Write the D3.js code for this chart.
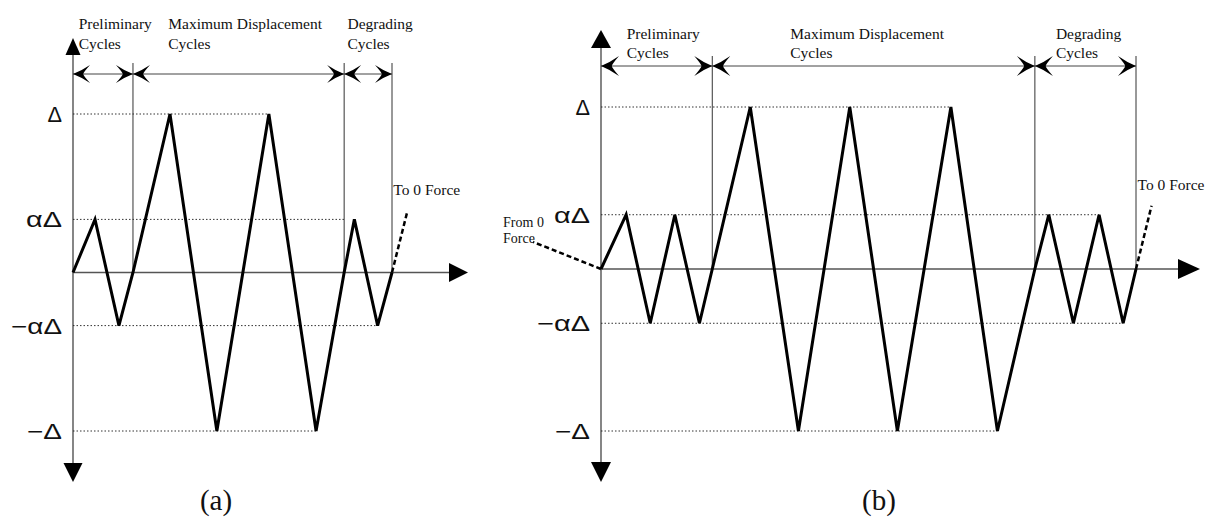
<!DOCTYPE html>
<html>
<head>
<meta charset="utf-8">
<script src="https://cdn.jsdelivr.net/npm/d3@7"></script>
<style>
    html, body { margin: 0; padding: 0; background: #fff; }
    svg { display: block; }
    .serif { font-family: "Liberation Serif", "Times New Roman", serif; fill: #111; }
    .sans  { font-family: "Liberation Sans", Arial, sans-serif; fill: #111; }
</style>
</head>
<body>
<div id="chart"></div>
<script>
(function () {

    /* ── data ─────────────────────────────────────────────────────── */
    var LEVEL_LABELS = ["Δ", "αΔ", "−αΔ", "−Δ"];
    var LEVEL_VALUES = [1, 0.335, -0.335, -1];

    var PHASE_TITLES = ["Preliminary", "Maximum Displacement", "Degrading"];
    var PHASE_SUB    = "Cycles";

    // panel (a): time (0-100 of the test) vs displacement (in Δ)
    var A_TIME      = [0, 6.9, 14.4, 18.8, 30.4, 45.1, 61.4, 76.2, 85.0, 88.2, 95.5, 100];
    var A_DISP      = [0, 0.335, -0.335, 0, 1, -1, 1, -1, 0, 0.335, -0.335, 0];
    var A_PHASES    = [0, 18.8, 85.0, 100];
    var A_LEVEL_END = [61.4, 85.0, 95.5, 76.2];
    var A_TO_ZERO   = [104.8, 0.385];

    // panel (b)
    var B_TIME      = [0, 4.7, 9.2, 13.8, 18.4, 20.8, 27.9, 36.9, 46.5, 55.4, 65.4, 74.1,
                       81.1, 83.7, 88.3, 93.1, 97.6, 100];
    var B_DISP      = [0, 0.335, -0.335, 0.335, -0.335, 0, 1, -1, 1, -1, 1, -1,
                       0, 0.335, -0.335, 0.335, -0.335, 0];
    var B_PHASES    = [0, 20.8, 81.1, 100];
    var B_LEVEL_END = [65.4, 93.1, 97.6, 74.1];
    var B_TO_ZERO   = [102.9, 0.39];
    var B_FROM_ZERO = [-12.7, 0.167];

    var CAPTIONS = ["(a)", "(b)"];

    /* ── layout ───────────────────────────────────────────────────── */
    var W = 1209, H = 518;

    var PANELS = [
        { time: A_TIME, disp: A_DISP, phases: A_PHASES, levelEnd: A_LEVEL_END,
          toZero: A_TO_ZERO, fromZero: null, caption: CAPTIONS[0],
          x0: 73, x1: 392, yTop: 114, yBot: 431,
          axTop: 38, axBot: 482, axRight: 468,
          topHead: [15, 17], botHead: [19, 19], rightHead: [19, 19],
          rowY: 74, vTop: 63, head: [17, 18],
          titleDx: [5.7, 35.3, 3.3], titleY: [29, 49],
          labelW: [14.5, 36, 51, 35], capX: 216, capY: 510 },
        { time: B_TIME, disp: B_DISP, phases: B_PHASES, levelEnd: B_LEVEL_END,
          toZero: B_TO_ZERO, fromZero: B_FROM_ZERO, caption: CAPTIONS[1],
          x0: 601, x1: 1136, yTop: 107, yBot: 431,
          axTop: 30, axBot: 482, axRight: 1200,
          topHead: [20, 18], botHead: [20, 20], rightHead: [22, 20],
          rowY: 66, vTop: 56, head: [18, 20],
          titleDx: [25.7, 78, 21], titleY: [39, 58],
          labelW: [14.5, 36, 53, 35], capX: 879, capY: 510 }
    ];

    var svg = d3.select("#chart")
        .append("svg")
        .attr("width", W)
        .attr("height", H);

    // concave filled arrow head, tip at origin pointing left
    function headPath(L, Hh) {
        return "M0,0" +
            "Q" + (0.5 * L) + "," + (-0.18 * Hh) + " " + L + "," + (-0.5 * Hh) +
            "Q" + (0.62 * L) + "," + (-0.1 * Hh) + " " + (0.6 * L) + ",0" +
            "Q" + (0.62 * L) + "," + (0.1 * Hh) + " " + L + "," + (0.5 * Hh) +
            "Q" + (0.5 * L) + "," + (0.18 * Hh) + " 0,0Z";
    }

    function triangle(g, tx, ty, dir, len, wid) {
        var pts;
        if (dir === "up")    pts = [[tx, ty], [tx - wid / 2, ty + len], [tx + wid / 2, ty + len]];
        if (dir === "down")  pts = [[tx, ty], [tx - wid / 2, ty - len], [tx + wid / 2, ty - len]];
        if (dir === "right") pts = [[tx, ty], [tx - len, ty - wid / 2], [tx - len, ty + wid / 2]];
        g.append("path")
            .attr("d", "M" + pts.join("L") + "Z")
            .attr("fill", "#000");
    }

    PANELS.forEach(function (p) {
        var g = svg.append("g");

        var x = d3.scaleLinear().domain([0, 100]).range([p.x0, p.x1]);
        var y = d3.scaleLinear().domain([-1, 1]).range([p.yBot, p.yTop]);

        /* level guide lines (dotted) */
        LEVEL_VALUES.forEach(function (v, i) {
            g.append("line")
                .attr("x1", x(0)).attr("x2", x(p.levelEnd[i]))
                .attr("y1", y(v)).attr("y2", y(v))
                .attr("stroke", "#333")
                .attr("stroke-width", 1)
                .attr("stroke-dasharray", "1.5 2");

            g.append("text")
                .attr("class", "sans")
                .attr("x", x(0) - 11)
                .attr("y", y(v) + 8)
                .attr("text-anchor", "end")
                .attr("font-size", 22)
                .attr("textLength", p.labelW[i])
                .attr("lengthAdjust", "spacingAndGlyphs")
                .text(LEVEL_LABELS[i]);
        });

        /* phase boundaries */
        p.phases.slice(1).forEach(function (t) {
            g.append("line")
                .attr("x1", x(t)).attr("x2", x(t))
                .attr("y1", p.vTop).attr("y2", y(0))
                .attr("stroke", "#333")
                .attr("stroke-width", 1);
        });

        // dimension row with double arrows
        g.append("line")
            .attr("x1", x(p.phases[0])).attr("x2", x(p.phases[p.phases.length - 1]))
            .attr("y1", p.rowY).attr("y2", p.rowY)
            .attr("stroke", "#444")
            .attr("stroke-width", 1);

        var hp = headPath(p.head[0], p.head[1]);
        for (var k = 0; k < p.phases.length - 1; k++) {
            g.append("path").attr("d", hp).attr("fill", "#000")
                .attr("transform", "translate(" + x(p.phases[k]) + "," + p.rowY + ")");
            g.append("path").attr("d", hp).attr("fill", "#000")
                .attr("transform", "translate(" + x(p.phases[k + 1]) + "," + p.rowY + ") scale(-1,1)");

            var tx = x(p.phases[k]) + p.titleDx[k];
            g.append("text").attr("class", "serif")
                .attr("x", tx).attr("y", p.titleY[0])
                .attr("font-size", 15.5)
                .text(PHASE_TITLES[k]);
            g.append("text").attr("class", "serif")
                .attr("x", tx).attr("y", p.titleY[1])
                .attr("font-size", 15.5)
                .text(PHASE_SUB);
        }

        /* axes */
        g.append("line")
            .attr("x1", x(0)).attr("x2", x(0))
            .attr("y1", p.axTop + 5).attr("y2", p.axBot - 5)
            .attr("stroke", "#222")
            .attr("stroke-width", 1.1);
        g.append("line")
            .attr("x1", x(0)).attr("x2", p.axRight - 5)
            .attr("y1", y(0)).attr("y2", y(0))
            .attr("stroke", "#555")
            .attr("stroke-width", 1.3);

        triangle(g, x(0), p.axTop, "up", p.topHead[1], p.topHead[0]);
        triangle(g, x(0), p.axBot, "down", p.botHead[1], p.botHead[0]);
        triangle(g, p.axRight, y(0), "right", p.rightHead[0], p.rightHead[1]);

        /* loading history */
        var pts = p.time.map(function (t, i) { return [t, p.disp[i]]; });
        var line = d3.line()
            .x(function (d) { return x(d[0]); })
            .y(function (d) { return y(d[1]); });

        g.append("path")
            .datum(pts)
            .attr("d", line)
            .attr("fill", "none")
            .attr("stroke", "#000")
            .attr("stroke-width", 3)
            .attr("stroke-linejoin", "miter");

        // to / from zero force
        var last = pts[pts.length - 1];
        g.append("path")
            .datum([last, p.toZero])
            .attr("d", line)
            .attr("stroke", "#000")
            .attr("stroke-width", 2.5)
            .attr("stroke-dasharray", "5 3");
        g.append("text").attr("class", "serif")
            .attr("x", x(p.toZero[0]) - 14)
            .attr("y", y(p.toZero[1]) - 16)
            .attr("font-size", 15.5)
            .text("To 0 Force");

        if (p.fromZero) {
            g.append("path")
                .datum([pts[0], p.fromZero])
                .attr("d", line)
                .attr("stroke", "#000")
                .attr("stroke-width", 2.5)
                .attr("stroke-dasharray", "5 3");
            var fx = x(p.fromZero[0]) - 30;
            var fy = y(p.fromZero[1]);
            g.append("text").attr("class", "serif")
                .attr("x", fx).attr("y", fy - 15)
                .attr("font-size", 14)
                .text("From 0");
            g.append("text").attr("class", "serif")
                .attr("x", fx).attr("y", fy + 1)
                .attr("font-size", 14)
                .text("Force");
        }

        g.append("text").attr("class", "serif")
            .attr("x", p.capX).attr("y", p.capY)
            .attr("text-anchor", "middle")
            .attr("font-size", 29)
            .text(p.caption);
    });

}());
</script>
</body>
</html>
